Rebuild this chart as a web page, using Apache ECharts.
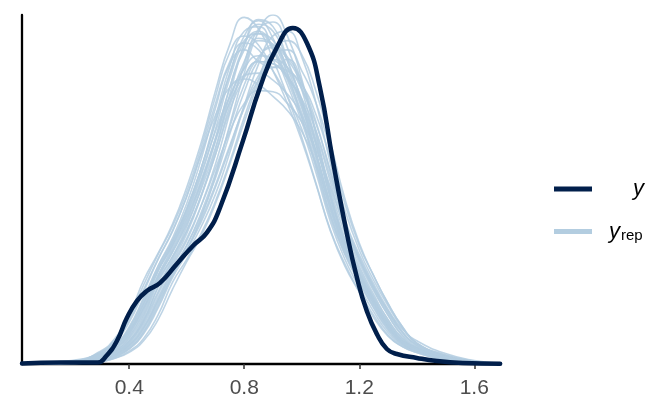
<!DOCTYPE html>
<html><head><meta charset="utf-8">
<script src="https://cdn.jsdelivr.net/npm/echarts@6/dist/echarts.min.js"></script>
<style>html,body{margin:0;padding:0;background:#fff}#c{width:672px;height:415px}</style>
</head><body><div id="c"></div>
<script>
// x-axis tick labels
const xTicks = [0.4, 0.8, 1.2, 1.6];

// observed data density (y)
const yX    = [0.027, 0.16, 0.29, 0.32, 0.357, 0.392, 0.427, 0.462, 0.507, 0.566, 0.622, 0.670, 0.716, 0.796, 0.855, 0.914, 0.969, 1.018, 1.063, 1.108, 1.157, 1.192, 1.226, 1.261, 1.296, 1.331, 1.40, 1.47, 1.56, 1.69];
const yDens = [0.005, 0.012, 0.013, 0.069, 0.198, 0.397, 0.543, 0.629, 0.698, 0.862, 1.017, 1.129, 1.345, 1.922, 2.379, 2.724, 2.888, 2.759, 2.379, 1.75, 1.121, 0.741, 0.457, 0.259, 0.129, 0.086, 0.052, 0.026, 0.009, 0.002];

// replicated data densities (y_rep), evaluated on a common grid
const repX = [0.03, 0.20, 0.30, 0.35, 0.40, 0.45, 0.50, 0.55, 0.60, 0.65, 0.70, 0.75, 0.80, 0.85, 0.90, 0.95, 1.00, 1.05, 1.10, 1.15, 1.20, 1.25, 1.30, 1.35, 1.40, 1.50, 1.60, 1.69];
const rep01 = [0, 0.01, 0.05, 0.11, 0.22, 0.42, 0.72, 0.92, 1.15, 1.45, 1.80, 2.22, 2.55, 2.78, 2.75, 2.55, 2.28, 1.88, 1.42, 1.05, 0.80, 0.57, 0.36, 0.20, 0.14, 0.05, 0.015, 0.003];
const rep02 = [0.002, 0.015, 0.08, 0.16, 0.31, 0.56, 0.82, 1.05, 1.33, 1.68, 2.08, 2.50, 2.82, 2.95, 2.80, 2.50, 2.12, 1.68, 1.25, 0.94, 0.70, 0.48, 0.29, 0.17, 0.12, 0.04, 0.012, 0.002];
const rep03 = [0, 0.008, 0.035, 0.08, 0.16, 0.31, 0.54, 0.78, 0.98, 1.22, 1.52, 1.86, 2.22, 2.48, 2.62, 2.55, 2.36, 2.06, 1.66, 1.24, 0.94, 0.69, 0.47, 0.28, 0.17, 0.07, 0.02, 0.005];
const rep04 = [0.003, 0.02, 0.11, 0.22, 0.42, 0.72, 0.95, 1.20, 1.52, 1.90, 2.35, 2.75, 2.98, 2.88, 2.62, 2.30, 1.95, 1.55, 1.15, 0.86, 0.62, 0.40, 0.24, 0.15, 0.10, 0.03, 0.008, 0.002];
const rep05 = [0, 0.005, 0.02, 0.05, 0.11, 0.22, 0.42, 0.70, 0.90, 1.12, 1.40, 1.74, 2.12, 2.45, 2.68, 2.70, 2.52, 2.24, 1.84, 1.38, 1.02, 0.76, 0.52, 0.32, 0.18, 0.08, 0.025, 0.006];
const rep06 = [0.001, 0.012, 0.06, 0.13, 0.26, 0.48, 0.76, 0.98, 1.24, 1.56, 1.92, 2.25, 2.48, 2.60, 2.58, 2.46, 2.26, 1.92, 1.50, 1.12, 0.84, 0.60, 0.38, 0.22, 0.14, 0.05, 0.015, 0.003];
const rep07 = [0, 0.006, 0.03, 0.07, 0.14, 0.28, 0.52, 0.76, 0.98, 1.26, 1.62, 2.06, 2.50, 2.86, 3.00, 2.82, 2.45, 1.96, 1.45, 1.04, 0.76, 0.52, 0.32, 0.18, 0.11, 0.04, 0.01, 0.002];
const rep08 = [0.003, 0.025, 0.10, 0.20, 0.38, 0.64, 0.90, 1.14, 1.44, 1.80, 2.14, 2.38, 2.45, 2.40, 2.30, 2.18, 2.00, 1.72, 1.34, 1.00, 0.74, 0.52, 0.33, 0.19, 0.13, 0.05, 0.015, 0.003];
const rep09 = [0, 0.004, 0.02, 0.06, 0.13, 0.26, 0.48, 0.74, 0.95, 1.18, 1.46, 1.82, 2.22, 2.58, 2.82, 2.86, 2.64, 2.24, 1.72, 1.24, 0.90, 0.64, 0.42, 0.24, 0.14, 0.05, 0.015, 0.003];
const rep10 = [0.001, 0.012, 0.07, 0.14, 0.28, 0.52, 0.80, 1.02, 1.28, 1.62, 2.02, 2.46, 2.76, 2.86, 2.72, 2.46, 2.16, 1.76, 1.32, 0.98, 0.74, 0.52, 0.32, 0.18, 0.12, 0.045, 0.012, 0.002];
const rep11 = [0.002, 0.015, 0.07, 0.15, 0.30, 0.54, 0.84, 1.08, 1.38, 1.76, 2.20, 2.58, 2.70, 2.60, 2.55, 2.62, 2.42, 1.98, 1.46, 1.06, 0.78, 0.55, 0.35, 0.20, 0.13, 0.05, 0.015, 0.003];
const rep12 = [0, 0.008, 0.04, 0.09, 0.18, 0.36, 0.62, 0.86, 1.08, 1.36, 1.68, 2.00, 2.24, 2.35, 2.34, 2.24, 2.08, 1.84, 1.52, 1.18, 0.90, 0.66, 0.46, 0.30, 0.20, 0.09, 0.03, 0.006];
const rep13 = [0, 0.01, 0.05, 0.10, 0.20, 0.40, 0.70, 0.92, 1.18, 1.52, 1.92, 2.38, 2.74, 2.92, 2.86, 2.60, 2.26, 1.82, 1.36, 1.00, 0.76, 0.54, 0.34, 0.19, 0.12, 0.045, 0.012, 0.002];
const rep14 = [0.002, 0.018, 0.09, 0.19, 0.36, 0.62, 0.90, 1.14, 1.44, 1.82, 2.24, 2.60, 2.76, 2.70, 2.52, 2.30, 2.02, 1.64, 1.22, 0.90, 0.66, 0.45, 0.27, 0.16, 0.11, 0.04, 0.01, 0.002];
const rep15 = [0, 0.005, 0.025, 0.06, 0.13, 0.27, 0.50, 0.76, 0.98, 1.24, 1.54, 1.88, 2.20, 2.44, 2.55, 2.52, 2.40, 2.14, 1.76, 1.32, 0.98, 0.72, 0.50, 0.31, 0.18, 0.07, 0.02, 0.004];
const rep16 = [0, 0.007, 0.035, 0.08, 0.17, 0.34, 0.60, 0.84, 1.06, 1.36, 1.72, 2.16, 2.58, 2.88, 2.94, 2.72, 2.36, 1.90, 1.42, 1.04, 0.78, 0.55, 0.35, 0.20, 0.13, 0.05, 0.015, 0.003];
const rep17 = [0.001, 0.01, 0.05, 0.12, 0.24, 0.46, 0.76, 1.00, 1.26, 1.58, 1.94, 2.30, 2.54, 2.65, 2.62, 2.48, 2.24, 1.88, 1.46, 1.08, 0.82, 0.58, 0.38, 0.22, 0.14, 0.05, 0.015, 0.003];
const rep18 = [0.003, 0.02, 0.10, 0.21, 0.40, 0.68, 0.94, 1.18, 1.48, 1.86, 2.30, 2.68, 2.82, 2.74, 2.52, 2.24, 1.92, 1.54, 1.14, 0.84, 0.62, 0.42, 0.25, 0.15, 0.10, 0.035, 0.01, 0.002];
const rep19 = [0, 0.004, 0.02, 0.05, 0.10, 0.20, 0.38, 0.64, 0.88, 1.10, 1.38, 1.72, 2.08, 2.42, 2.68, 2.78, 2.66, 2.34, 1.90, 1.42, 1.04, 0.76, 0.52, 0.32, 0.18, 0.07, 0.02, 0.005];
const rep20 = [0.005, 0.03, 0.09, 0.16, 0.28, 0.48, 0.74, 0.96, 1.20, 1.50, 1.86, 2.26, 2.60, 2.80, 2.74, 2.50, 2.20, 1.80, 1.36, 1.00, 0.76, 0.54, 0.34, 0.19, 0.13, 0.05, 0.015, 0.003];
const rep21 = [0.002, 0.015, 0.08, 0.16, 0.32, 0.57, 0.84, 1.06, 1.34, 1.68, 2.08, 2.50, 2.78, 2.84, 2.70, 2.44, 2.12, 1.72, 1.28, 0.95, 0.71, 0.49, 0.30, 0.17, 0.12, 0.04, 0.012, 0.002];
const rep22 = [0, 0.007, 0.035, 0.08, 0.16, 0.32, 0.57, 0.81, 1.02, 1.28, 1.60, 1.98, 2.34, 2.62, 2.74, 2.64, 2.42, 2.08, 1.64, 1.22, 0.92, 0.67, 0.45, 0.27, 0.16, 0.06, 0.02, 0.004];
const rep23 = [0.002, 0.015, 0.07, 0.15, 0.29, 0.52, 0.80, 1.02, 1.30, 1.64, 2.00, 2.30, 2.48, 2.50, 2.44, 2.32, 2.14, 1.80, 1.38, 1.02, 0.76, 0.54, 0.34, 0.20, 0.13, 0.05, 0.015, 0.003];
const rep24 = [0.001, 0.012, 0.06, 0.13, 0.26, 0.50, 0.80, 1.04, 1.32, 1.68, 2.12, 2.56, 2.86, 2.90, 2.70, 2.40, 2.08, 1.70, 1.28, 0.96, 0.72, 0.50, 0.31, 0.18, 0.12, 0.045, 0.012, 0.002];
const rep25 = [0, 0.006, 0.03, 0.07, 0.15, 0.30, 0.55, 0.80, 1.02, 1.30, 1.64, 2.04, 2.40, 2.64, 2.72, 2.62, 2.38, 2.00, 1.56, 1.16, 0.87, 0.63, 0.42, 0.25, 0.15, 0.06, 0.018, 0.004];
const rep26 = [0.001, 0.01, 0.05, 0.11, 0.23, 0.44, 0.74, 0.96, 1.22, 1.55, 1.94, 2.38, 2.70, 2.84, 2.78, 2.54, 2.22, 1.80, 1.36, 1.01, 0.77, 0.55, 0.35, 0.20, 0.13, 0.05, 0.015, 0.003];
const rep27 = [0, 0.008, 0.04, 0.10, 0.20, 0.38, 0.66, 0.90, 1.14, 1.44, 1.80, 2.18, 2.46, 2.60, 2.58, 2.46, 2.28, 2.00, 1.60, 1.20, 0.90, 0.66, 0.44, 0.27, 0.16, 0.06, 0.018, 0.004];
const rep28 = [0, 0.008, 0.04, 0.09, 0.19, 0.37, 0.66, 0.88, 1.12, 1.44, 1.84, 2.32, 2.74, 2.96, 2.90, 2.62, 2.24, 1.80, 1.34, 0.99, 0.75, 0.53, 0.33, 0.19, 0.12, 0.045, 0.012, 0.002];
const repList = [rep01, rep02, rep03, rep04, rep05, rep06, rep07, rep08, rep09, rep10, rep11, rep12, rep13, rep14,
                 rep15, rep16, rep17, rep18, rep19, rep20, rep21, rep22, rep23, rep24, rep25, rep26, rep27, rep28];

const DARK = '#011f4b', LIGHT = '#b3cde0';
const zip = (xs, ys) => xs.map((x, i) => [x, ys[i]]);

const series = repList.map(v => ({
  name: 'y_rep', type: 'line', data: zip(repX, v), smooth: 0.5,
  symbol: 'none', silent: true,
  lineStyle: { color: LIGHT, width: 1.6, opacity: 0.85 }, itemStyle: { color: LIGHT }, z: 2
}));
series.push({
  name: 'y', type: 'line', data: zip(yX, yDens), smooth: 0.5,
  symbol: 'none', lineStyle: { color: DARK, width: 4.5, cap: 'round', join: 'round' }, itemStyle: { color: DARK }, z: 3
});

const chart = echarts.init(document.getElementById('c'), null, { renderer: 'canvas' });
chart.setOption({
  animation: false,
  backgroundColor: '#ffffff',
  grid: { left: 22, right: 171, top: 15, bottom: 51, containLabel: false },
  xAxis: {
    type: 'value', min: 0.027, max: 1.693,
    axisLine: { show: true, lineStyle: { color: '#000', width: 2.3 } },
    axisTick: { show: true, customValues: xTicks, length: 5, lineStyle: { color: '#333', width: 1.5 } },
    axisLabel: { customValues: xTicks, margin: 14, fontSize: 21, color: '#4d4d4d', fontFamily: 'Liberation Sans, Arial, sans-serif',
      formatter: v => v.toFixed(1) },
    splitLine: { show: false }
  },
  yAxis: {
    type: 'value', min: 0, max: 3.0,
    axisLine: { show: true, lineStyle: { color: '#000', width: 2.3 } },
    axisTick: { show: false }, axisLabel: { show: false }, splitLine: { show: false }
  },
  legend: {
    orient: 'vertical', left: 549, top: 173, itemWidth: 38, itemHeight: 5, itemGap: 20,
    icon: 'rect', selectedMode: false,
    data: [
      { name: 'y', itemStyle: { color: DARK } },
      { name: 'y_rep', itemStyle: { color: LIGHT, opacity: 1 } }
    ],
    formatter: n => n === 'y' ? '{p1| }{i|y}' : '{p2| }{i|y}{s|rep}',
    textStyle: {
      color: '#000', fontFamily: 'Liberation Sans, Arial, sans-serif',
      rich: {
        p1: { width: 36, fontSize: 22, lineHeight: 22 },
        p2: { width: 12, fontSize: 22, lineHeight: 22 },
        i: { fontSize: 22, fontStyle: 'italic', lineHeight: 22, color: '#000' },
        s: { fontSize: 15, lineHeight: 22, padding: [8, 0, 0, 1], color: '#000' }
      }
    }
  },
  series: series
});
</script>
</body></html>
